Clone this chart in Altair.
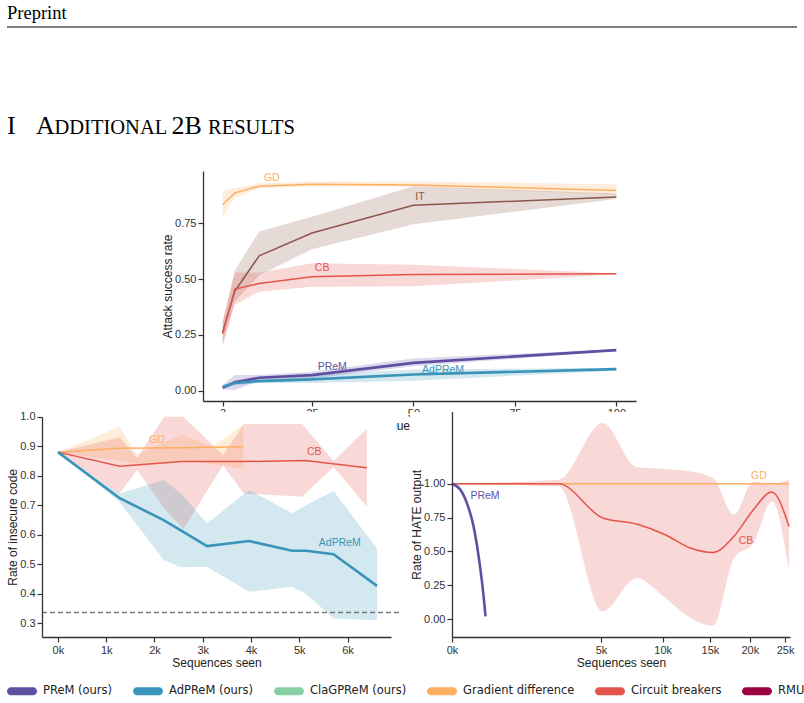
import altair as alt
import pandas as pd

W, H = 804, 703

# ---------------- data ----------------
series_names = ["GD", "IT", "CB", "PReM", "AdPReM"]
series_colors = ["#fdae61", "#8c564b", "#e4544a", "#5e4fa2", "#3a94b9"]
thick_series = ["PReM", "AdPReM"]

methods = ["PReM (ours)", "AdPReM (ours)", "ClaGPReM (ours)",
           "Gradient difference", "Circuit breakers", "RMU"]
method_colors = ["#5e4fa2", "#3a94b9", "#88d0a4", "#fdae61", "#e4544a", "#9e0142"]

# --- top panel: attack success rate ---
top_x = [3, 6, 12, 25, 50, 100]
top_gd_mean = [0.835, 0.887, 0.917, 0.926, 0.922, 0.898]
top_gd_lo = [0.777, 0.866, 0.908, 0.916, 0.915, 0.878]
top_gd_hi = [0.896, 0.908, 0.930, 0.938, 0.938, 0.926]
top_it_mean = [0.264, 0.447, 0.605, 0.707, 0.831, 0.869]
top_it_lo = [0.21, 0.40, 0.518, 0.634, 0.746, 0.859]
top_it_hi = [0.31, 0.54, 0.714, 0.78, 0.917, 0.884]
top_cb_mean = [0.256, 0.456, 0.481, 0.511, 0.521, 0.524]
top_cb_lo = [0.20, 0.387, 0.444, 0.466, 0.468, 0.521]
top_cb_hi = [0.31, 0.53, 0.529, 0.571, 0.565, 0.527]
top_prem_mean = [0.013, 0.038, 0.058, 0.070, 0.125, 0.182]
top_prem_lo = [0.005, 0.003, 0.045, 0.055, 0.110, 0.178]
top_prem_hi = [0.025, 0.070, 0.070, 0.085, 0.145, 0.186]
top_adprem_mean = [0.018, 0.035, 0.043, 0.051, 0.073, 0.097]
top_adprem_lo = [0.012, 0.025, 0.035, 0.035, 0.045, 0.090]
top_adprem_hi = [0.024, 0.045, 0.050, 0.070, 0.095, 0.103]
top_labels = {"GD": (15.1, 0.953), "IT": (51.6, 0.868), "CB": (27.5, 0.55),
              "PReM": (30.0, 0.106), "AdPReM": (57.3, 0.093)}

# --- bottom-left panel: insecure code ---
bl_gd_x = [0, 1.28, 2.56, 3.84]
bl_gd_mean = [0.88, 0.893, 0.895, 0.898]
bl_gd_band_x = [0, 1.28, 1.64, 2.56, 3.2, 3.84]
bl_gd_lo = [0.88, 0.85, 0.84, 0.85, 0.84, 0.825]
bl_gd_hi = [0.88, 0.966, 0.87, 0.94, 0.90, 0.972]
bl_cb_x = [0, 1.28, 2.56, 3.84, 5.12, 6.4]
bl_cb_mean = [0.88, 0.832, 0.848, 0.848, 0.852, 0.827]
bl_cb_band_x = [0, 1.28, 1.64, 2.2, 2.6, 3.42, 3.85, 5.06, 5.71, 6.4]
bl_cb_lo = [0.88, 0.74, 0.82, 0.69, 0.62, 0.836, 0.74, 0.729, 0.83, 0.695]
bl_cb_hi = [0.88, 0.93, 0.86, 1.06, 1.06, 0.87, 0.975, 0.975, 0.85, 0.96]
bl_ad_x = [0, 1.28, 2.19, 3.09, 3.96, 4.85, 5.14, 5.71, 6.61]
bl_ad_mean = [0.88, 0.724, 0.650, 0.562, 0.579, 0.546, 0.546, 0.534, 0.427]
bl_ad_band_x = [0, 1.28, 2.19, 2.55, 3.09, 3.96, 4.85, 5.14, 5.71, 6.61]
bl_ad_lo = [0.88, 0.71, 0.515, 0.49, 0.492, 0.407, 0.424, 0.40, 0.317, 0.311]
bl_ad_hi = [0.88, 0.74, 0.786, 0.74, 0.639, 0.752, 0.673, 0.70, 0.748, 0.554]
bl_ref_y = 0.337
bl_ref_span = [-0.33, 7.1]
bl_labels = {"GD": (2.05, 0.921), "CB": (5.31, 0.880), "AdPReM": (5.84, 0.572)}

# --- bottom-right panel: HATE output ---
br_cb_x = [0, 2.56, 5.12, 7.68, 10.24, 12.8, 15.36, 17.92, 20.48, 23.04, 25.6]
br_cb_mean = [1.0, 1.0, 0.747, 0.702, 0.623, 0.525, 0.492, 0.611, 0.808, 0.939, 0.684]
br_cb_lo = [1.0, 0.98, 0.056, 0.303, 0.155, 0.007, -0.05, 0.451, 0.56, 0.869, 0.369]
br_cb_hi = [1.0, 1.03, 1.449, 1.123, 1.109, 1.091, 1.042, 0.771, 1.017, 1.0, 1.03]
br_gd_x = [0, 25.6]
br_gd_mean = [1.0, 1.0]
br_prem_x = [0, 0.016, 0.05, 0.105, 0.16, 0.21, 0.254]
br_prem_mean = [1.0, 0.956, 0.857, 0.684, 0.463, 0.241, 0.019]
br_labels = {"PReM": (0.245, 0.911), "GD": (21.24, 1.059), "CB": (19.48, 0.579)}

# ---------------- helpers ----------------
COLOR = alt.Scale(domain=series_names, range=series_colors)
PILL = ("M -0.733 -0.267 L 0.733 -0.267 A 0.267 0.267 0 0 1 0.733 0.267 "
        "L -0.733 0.267 A 0.267 0.267 0 0 1 -0.733 -0.267 Z")


def lines_df(d):
    rows = []
    for s, (xs, ys) in d.items():
        for a, b in zip(xs, ys):
            rows.append({"series": s, "x": a, "y": b})
    return pd.DataFrame(rows)


def bands_df(d):
    rows = []
    for s, (xs, lo, hi) in d.items():
        for a, l, h in zip(xs, lo, hi):
            rows.append({"series": s, "x": a, "lo": l, "hi": h})
    return pd.DataFrame(rows)


def labels_df(d):
    return pd.DataFrame([{"series": s, "x": p[0], "y": p[1]} for s, p in d.items()])


def make_panel(lines, bands, labels, xscale, yscale, xaxis, yaxis,
               band_interp="linear", line_interp="linear", extra=None):
    ex = lambda f: alt.X(f, type="quantitative", scale=xscale, axis=xaxis)
    ey = lambda f: alt.Y(f, type="quantitative", scale=yscale, axis=yaxis)
    col = alt.Color("series:N", scale=COLOR, legend=None)
    layers = []
    if bands is not None:
        layers.append(alt.Chart(bands).mark_area(opacity=0.22, interpolate=band_interp)
                      .encode(x=ex("x"), y=ey("lo"), y2="hi", color=col))
    if extra is not None:
        layers.append(extra(ex, ey))
    present = list(dict.fromkeys(lines["series"]))
    for s in series_names:
        if s not in present:
            continue
        sw = 2.6 if s in thick_series else 1.5
        layers.append(alt.Chart(lines).transform_filter(alt.datum.series == s)
                      .mark_line(strokeWidth=sw, interpolate=line_interp)
                      .encode(x=ex("x"), y=ey("y"), color=col))
    layers.append(alt.Chart(labels).mark_text(font="Liberation Sans", fontSize=10.5)
                  .encode(x=ex("x"), y=ey("y"), text="series:N", color=col))
    return alt.layer(*layers)


# ---------------- top panel ----------------
top_lines = lines_df({"GD": (top_x, top_gd_mean), "IT": (top_x, top_it_mean),
                      "CB": (top_x, top_cb_mean), "PReM": (top_x, top_prem_mean),
                      "AdPReM": (top_x, top_adprem_mean)})
top_bands = bands_df({"GD": (top_x, top_gd_lo, top_gd_hi), "IT": (top_x, top_it_lo, top_it_hi),
                      "CB": (top_x, top_cb_lo, top_cb_hi), "PReM": (top_x, top_prem_lo, top_prem_hi),
                      "AdPReM": (top_x, top_adprem_lo, top_adprem_hi)})
top_panel = make_panel(
    top_lines, top_bands, labels_df(top_labels),
    alt.Scale(domain=[-1.85, 104.85], range=[203, 636], nice=False, zero=False),
    alt.Scale(domain=[-0.046, 0.985], range=[401, 171], nice=False, zero=False),
    alt.Axis(values=[3, 25, 50, 75, 100], orient="bottom", offset=401 - H,
             title="Sequences seen", zindex=0, labelFlush=False, labelPadding=1),
    alt.Axis(values=[0, 0.25, 0.5, 0.75], format=".2f", orient="left", offset=-203,
             title="Attack success rate", zindex=0),
)

# ---------------- bottom-left panel ----------------
bl_lines = lines_df({"GD": (bl_gd_x, bl_gd_mean), "CB": (bl_cb_x, bl_cb_mean),
                     "AdPReM": (bl_ad_x, bl_ad_mean)})
bl_bands = bands_df({"GD": (bl_gd_band_x, bl_gd_lo, bl_gd_hi),
                     "CB": (bl_cb_band_x, bl_cb_lo, bl_cb_hi),
                     "AdPReM": (bl_ad_band_x, bl_ad_lo, bl_ad_hi)})
ref_df = pd.DataFrame({"x": [bl_ref_span[0]], "x2": [bl_ref_span[1]], "y": [bl_ref_y]})


def bl_ref(ex, ey):
    return (alt.Chart(ref_df).mark_rule(strokeDash=[5, 3], color="#7a7a7a", strokeWidth=1.3)
            .encode(x=ex("x"), x2="x2", y=ey("y")))


bl_panel = make_panel(
    bl_lines, bl_bands, labels_df(bl_labels),
    alt.Scale(domain=[-0.33, 6.9], range=[42, 391], nice=False, zero=False),
    alt.Scale(domain=[0.254, 1.0], range=[637, 416.7], nice=False, zero=False, clamp=True),
    alt.Axis(values=[0, 1, 2, 3, 4, 5, 6], labelExpr="datum.value + 'k'", orient="bottom",
             offset=637 - H, title="Sequences seen", zindex=1, labelFlush=False),
    alt.Axis(values=[0.3, 0.4, 0.5, 0.6, 0.7, 0.8, 0.9, 1.0], format=".1f", orient="left",
             offset=-42, title="Rate of insecure code", zindex=1),
    extra=bl_ref,
)

# ---------------- bottom-right panel ----------------
br_lines = lines_df({"GD": (br_gd_x, br_gd_mean), "CB": (br_cb_x, br_cb_mean),
                     "PReM": (br_prem_x, br_prem_mean)})
br_bands = bands_df({"CB": (br_cb_x, br_cb_lo, br_cb_hi)})
br_panel = make_panel(
    br_lines, br_bands, labels_df(br_labels),
    alt.Scale(type="sqrt", domain=[0, 25.75], range=[452, 790], nice=False, zero=False),
    alt.Scale(domain=[-0.133, 1.534], range=[637, 411.5], nice=False, zero=False),
    alt.Axis(values=[0, 5, 10, 15, 20, 25], labelExpr="datum.value + 'k'", orient="bottom",
             offset=637 - H, title="Sequences seen", zindex=1, labelFlush=False),
    alt.Axis(values=[0, 0.25, 0.5, 0.75, 1.0], format=".2f", orient="left",
             offset=-452, title="Rate of HATE output", zindex=1),
    band_interp="monotone", line_interp="monotone",
)

# ---------------- page furniture ----------------
one = pd.DataFrame({"a": [0]})


def page_text(s, x, y, size):
    return (alt.Chart(one).mark_text(text=s, font="Liberation Serif", fontSize=size,
                                     align="left", baseline="alphabetic", color="black")
            .encode(x=alt.value(x), y=alt.value(y)))


header = [
    page_text("Preprint", 7, 19, 18.5),
    alt.Chart(one).mark_rule(color="black", strokeWidth=1)
    .encode(x=alt.value(7), x2=alt.value(797), y=alt.value(27)),
    page_text("I", 7, 134, 26),
    page_text("A", 36, 134, 26),
    page_text("DDITIONAL", 54.5, 134, 20.5),
    page_text("2B", 171.5, 134, 26),
    page_text("RESULTS", 208, 134, 20.5),
]

covers = [
    alt.Chart(one).mark_rect(color="white")
    .encode(x=alt.value(0), x2=alt.value(396), y=alt.value(412), y2=alt.value(672)),
    alt.Chart(one).mark_rect(color="white")
    .encode(x=alt.value(410), x2=alt.value(804), y=alt.value(412), y2=alt.value(672)),
]

legend_layer = (
    alt.Chart(pd.DataFrame({"method": methods}))
    .mark_point(filled=True, size=10)
    .encode(
        x=alt.value(-60), y=alt.value(-60),
        color=alt.Color("method:N", scale=alt.Scale(domain=methods, range=method_colors),
                        legend=alt.Legend(orient="none", legendX=7, legendY=676,
                                          direction="horizontal", title=None,
                                          symbolType=PILL, symbolSize=900,
                                          symbolStrokeWidth=0, symbolOpacity=1,
                                          labelFont="DejaVu Sans", labelFontSize=11.5,
                                          labelColor="#222", columnPadding=20,
                                          labelOffset=6, padding=0)),
    )
)

chart = (
    alt.layer(*header, top_panel, *covers, bl_panel, br_panel, legend_layer)
    .resolve_scale(x="independent", y="independent", color="independent")
    .properties(width=W, height=H, autosize=alt.AutoSizeParams(type="none"), padding=0,
                background="white")
    .configure_view(stroke=None)
    .configure_axis(grid=False, labelFont="Liberation Sans", labelFontSize=11,
                    titleFont="Liberation Sans", titleFontSize=12, titleFontWeight="normal",
                    labelColor="#333", titleColor="#222", domainColor="#333",
                    tickColor="#333", tickSize=5, domainWidth=1.3, tickWidth=1.2,
                    labelPadding=2)
    .configure_axisX(titlePadding=2)
    .configure_axisY(titlePadding=0.5)
)

chart.save("out.html", embed_options={"renderer": "svg", "actions": False})
